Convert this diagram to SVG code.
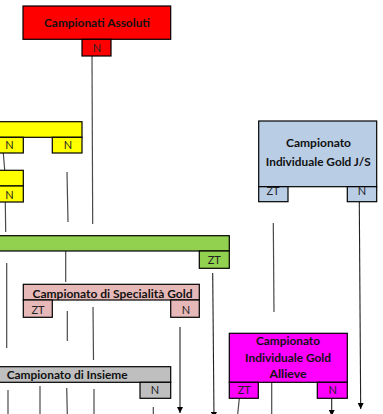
<svg xmlns="http://www.w3.org/2000/svg" width="383" height="414" viewBox="0 0 383 414">
<defs>
<marker id="arr" viewBox="0 0 6 6" refX="6" refY="3" markerWidth="6" markerHeight="6" markerUnits="userSpaceOnUse" orient="auto">
<path d="M0,0 L6,3 L0,6 Z" fill="#000"/>
</marker>
</defs>
<style>
.b{stroke:#000;stroke-width:1.2}
.t{font-family:Lato,"Liberation Sans",sans-serif;font-size:12px;font-weight:bold;fill:#111;text-anchor:middle}
.s{font-family:Lato,"Liberation Sans",sans-serif;font-size:11px;fill:#222;text-anchor:middle}
.c{stroke:#4a4a4a;stroke-width:1.2;fill:none}
.a{stroke:#222;stroke-width:1.1;fill:none;marker-end:url(#arr)}
</style>
<rect width="383" height="414" fill="#fff"/>
<g id="connectors">
<line class="c" x1="92" y1="56" x2="92.7" y2="224"/>
<line class="c" x1="3.3" y1="153" x2="4.7" y2="170"/>
<line class="c" x1="5.3" y1="202" x2="5.7" y2="232"/>
<line class="c" x1="6.7" y1="263" x2="6.7" y2="348"/>
<line class="c" x1="8" y1="390" x2="8" y2="414"/>
<line class="c" x1="67" y1="172" x2="68" y2="222"/>
<line class="c" x1="65.7" y1="251" x2="65.7" y2="282"/>
<line class="c" x1="67.3" y1="311" x2="67.3" y2="341"/>
<line class="c" x1="66.7" y1="388" x2="67.3" y2="414"/>
<line class="c" x1="93" y1="307" x2="93.5" y2="360"/>
<line class="c" x1="94" y1="389" x2="94" y2="414"/>
<line class="c" x1="40" y1="386" x2="40" y2="414"/>
<line class="c" x1="153.3" y1="407" x2="153.3" y2="414"/>
<line class="a" x1="180" y1="327" x2="180" y2="413"/>
<line class="a" x1="212.7" y1="273" x2="214" y2="418"/>
<line class="c" x1="273.3" y1="223" x2="274" y2="312"/>
<line class="a" x1="359.3" y1="201.7" x2="360.7" y2="409"/>
<line class="c" x1="240" y1="392" x2="237.7" y2="414"/>
<line class="c" x1="271.7" y1="382" x2="271.7" y2="414"/>
<line class="a" x1="331.7" y1="390" x2="331.7" y2="416"/>
</g>
<g id="assoluti">
<rect class="b" x="23" y="6" width="147.7" height="33.3" fill="#FF0000"/>
<rect class="b" x="82" y="39.3" width="29" height="16.7" fill="#FF0000"/>
<text class="t" x="97" y="27.3" textLength="106" lengthAdjust="spacingAndGlyphs">Campionati Assoluti</text>
<text class="s" x="97" y="51.7">N</text>
</g>
<g id="yellow1">
<rect class="b" x="-10" y="121.7" width="92" height="15.6" fill="#FFFF00"/>
<rect class="b" x="-10" y="137.3" width="33.3" height="15.7" fill="#FFFF00"/>
<rect class="b" x="52.3" y="137.3" width="29.7" height="15.7" fill="#FFFF00"/>
<text class="s" x="9.5" y="149.3">N</text>
<text class="s" x="68" y="149.3">N</text>
</g>
<g id="yellow2">
<rect class="b" x="-10" y="170.3" width="33.3" height="15.7" fill="#FFFF00"/>
<rect class="b" x="-10" y="186" width="33.3" height="16" fill="#FFFF00"/>
<text class="s" x="9.5" y="198.7">N</text>
</g>
<g id="js">
<rect class="b" x="258.7" y="121" width="118" height="65.7" fill="#B9CDE5"/>
<rect class="b" x="258.7" y="186.7" width="29.3" height="15" fill="#B9CDE5"/>
<rect class="b" x="347.3" y="186.7" width="29.4" height="15" fill="#B9CDE5"/>
<text class="t" x="318.5" y="147.3" textLength="65" lengthAdjust="spacingAndGlyphs">Campionato</text>
<text class="t" x="318.3" y="166" textLength="105" lengthAdjust="spacingAndGlyphs">Individuale Gold J/S</text>
<text class="s" x="273" y="195.3">ZT</text>
<text class="s" x="362" y="195.3">N</text>
</g>
<g id="green">
<rect class="b" x="-10" y="235.7" width="239.3" height="15.3" fill="#92D050"/>
<rect class="b" x="199.3" y="251" width="30" height="17.3" fill="#92D050"/>
<text class="s" x="214.3" y="264.3">ZT</text>
</g>
<g id="specialita">
<rect class="b" x="23.3" y="284.3" width="176" height="15.7" fill="#E6B8B7"/>
<rect class="b" x="23.3" y="300" width="29" height="17.3" fill="#E6B8B7"/>
<rect class="b" x="170.7" y="300" width="28.6" height="17.3" fill="#E6B8B7"/>
<text class="t" x="112.5" y="297.7" textLength="160" lengthAdjust="spacingAndGlyphs">Campionato di Specialità Gold</text>
<text class="s" x="38" y="314">ZT</text>
<text class="s" x="186" y="314">N</text>
</g>
<g id="insieme">
<rect class="b" x="-10" y="366.7" width="180.7" height="15.6" fill="#BFBFBF"/>
<rect class="b" x="140" y="382.3" width="30.7" height="16" fill="#BFBFBF"/>
<text class="t" x="6.7" y="378.7" style="text-anchor:start" textLength="121" lengthAdjust="spacingAndGlyphs">Campionato di Insieme</text>
<text class="s" x="155" y="394">N</text>
</g>
<g id="allieve">
<rect class="b" x="229.3" y="333.3" width="118" height="49" fill="#FF00FF"/>
<rect class="b" x="229.3" y="382.3" width="29" height="16" fill="#FF00FF"/>
<rect class="b" x="317.3" y="382.3" width="30" height="16" fill="#FF00FF"/>
<text class="t" x="288" y="345" textLength="64" lengthAdjust="spacingAndGlyphs">Campionato</text>
<text class="t" x="288" y="361.7" textLength="86" lengthAdjust="spacingAndGlyphs">Individuale Gold</text>
<text class="t" x="288" y="377.7" textLength="37" lengthAdjust="spacingAndGlyphs">Allieve</text>
<text class="s" x="244.3" y="394">ZT</text>
<text class="s" x="332.7" y="394">N</text>
</g>
</svg>
